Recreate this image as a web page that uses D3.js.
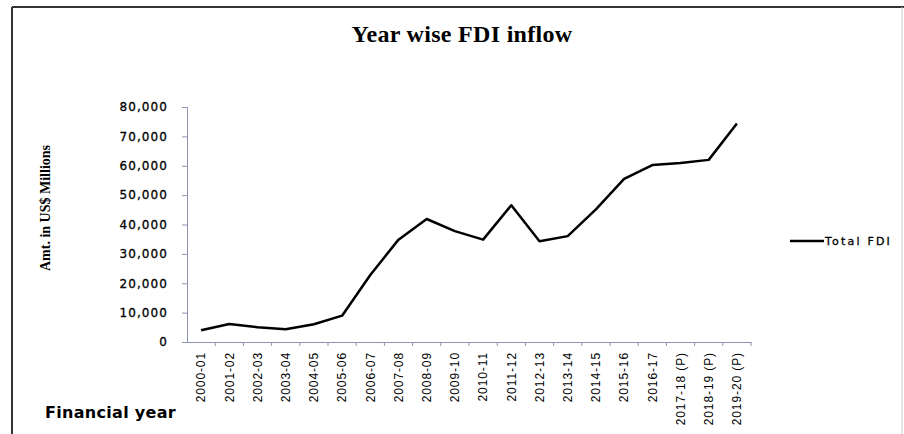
<!DOCTYPE html>
<html>
<head>
<meta charset="utf-8">
<script src="https://cdn.jsdelivr.net/npm/d3@7"></script>
<style>
  body { margin: 0; background: #fff; }
  svg { display: block; }
</style>
</head>
<body>
<svg id="chart"></svg>
<script>
// financial years (x categories)
let years = ["2000-01", "2001-02", "2002-03", "2003-04", "2004-05", "2005-06",
    "2006-07", "2007-08", "2008-09", "2009-10", "2010-11", "2011-12", "2012-13",
    "2013-14", "2014-15", "2015-16", "2016-17", "2017-18 (P)", "2018-19 (P)", "2019-20 (P)"];

// Total FDI, US$ millions
let totalFdi = [4029, 6130, 5035, 4322, 6051, 8961, 22826, 34843, 41873, 37745,
    34847, 46556, 34298, 36046, 45148, 55559, 60220, 60974, 62001, 74391];

let yTicks = [0, 10000, 20000, 30000, 40000, 50000, 60000, 70000, 80000];

function createChart() {
    let w = 904, h = 434;
    let axisColor = "#8f92b4";

    let svg = d3.select("#chart")
        .attr("width", w)
        .attr("height", h);

    // frame
    svg.append("line").attr("x1", 12).attr("x2", 904).attr("y1", 7).attr("y2", 7)
        .attr("stroke", "#333").attr("stroke-width", 2);
    svg.append("line").attr("x1", 12).attr("x2", 12).attr("y1", 7).attr("y2", 434)
        .attr("stroke", "#333").attr("stroke-width", 2);
    svg.append("line").attr("x1", 902).attr("x2", 902).attr("y1", 7).attr("y2", 434)
        .attr("stroke", "#ccc").attr("stroke-width", 1);

    let x = d3.scaleBand()
        .domain(years)
        .range([187, 751])
        .paddingInner(0)
        .paddingOuter(0);

    let y = d3.scaleLinear()
        .domain([0, 80000])
        .range([342, 107]);

    // title
    svg.append("text")
        .attr("x", 462)
        .attr("y", 42)
        .attr("text-anchor", "middle")
        .attr("font-family", "Liberation Serif, serif")
        .attr("font-weight", "bold")
        .attr("font-size", 24)
        .attr("letter-spacing", 0.3)
        .text("Year wise FDI inflow");

    // y axis
    let yAxis = svg.append("g")
        .attr("transform", "translate(187,0)")
        .call(d3.axisLeft(y).tickValues(yTicks).tickFormat(d3.format(",")).tickSize(5).tickPadding(14));
    yAxis.select(".domain").attr("stroke", axisColor);
    yAxis.selectAll(".tick line").attr("stroke", axisColor);
    yAxis.selectAll("text")
        .attr("font-family", "DejaVu Sans, sans-serif")
        .attr("font-size", 12)
        .attr("letter-spacing", 1.1)
        .attr("fill", "#000")
        .attr("stroke", "#000")
        .attr("stroke-width", 0.3);

    svg.append("text")
        .attr("transform", "translate(50,208) rotate(-90)")
        .attr("text-anchor", "middle")
        .attr("font-family", "Liberation Serif, serif")
        .attr("font-weight", "bold")
        .attr("font-size", 14)
        .text("Amt. in US$ Millions");

    // x axis
    let xAxis = svg.append("g")
        .attr("transform", "translate(0,342)")
        .call(d3.axisBottom(x).tickSize(0).tickPadding(10));
    xAxis.select(".domain").attr("stroke", axisColor);
    xAxis.selectAll("text")
        .attr("font-family", "Liberation Sans, sans-serif")
        .attr("font-size", 12)
        .attr("letter-spacing", 0.9)
        .attr("fill", "#000")
        .attr("text-anchor", "end")
        .attr("transform", "rotate(-90)")
        .attr("x", -10)
        .attr("y", 0)
        .attr("dy", "0.35em");

    // category boundary ticks
    xAxis.append("g")
        .selectAll("line")
        .data(years)
        .enter().append("line")
          .attr("x1", d => x(d) + x.bandwidth())
          .attr("x2", d => x(d) + x.bandwidth())
          .attr("y1", 0)
          .attr("y2", 4)
          .attr("stroke", axisColor);

    svg.append("text")
        .attr("x", 45)
        .attr("y", 418)
        .attr("font-family", "DejaVu Sans, sans-serif")
        .attr("font-weight", "bold")
        .attr("font-size", 16)
        .attr("letter-spacing", 0.3)
        .text("Financial year");

    // line
    let line = d3.line()
        .x((d, i) => x(years[i]) + x.bandwidth() / 2)
        .y(d => y(d));

    svg.append("path")
        .datum(totalFdi)
        .attr("fill", "none")
        .attr("stroke", "#000")
        .attr("stroke-width", 2.5)
        .attr("stroke-linejoin", "round")
        .attr("d", line);

    // legend
    let legend = svg.append("g").attr("transform", "translate(790,241)");
    legend.append("line")
        .attr("x1", 0).attr("x2", 34)
        .attr("stroke", "#000").attr("stroke-width", 2.5);
    legend.append("text")
        .attr("x", 35)
        .attr("dy", "0.35em")
        .attr("font-family", "DejaVu Sans, sans-serif")
        .attr("font-size", 11)
        .attr("letter-spacing", 2.2)
        .attr("stroke", "#000")
        .attr("stroke-width", 0.3)
        .text("Total FDI");
}

window.onload = function() {
    createChart();
};
</script>
</body>
</html>
